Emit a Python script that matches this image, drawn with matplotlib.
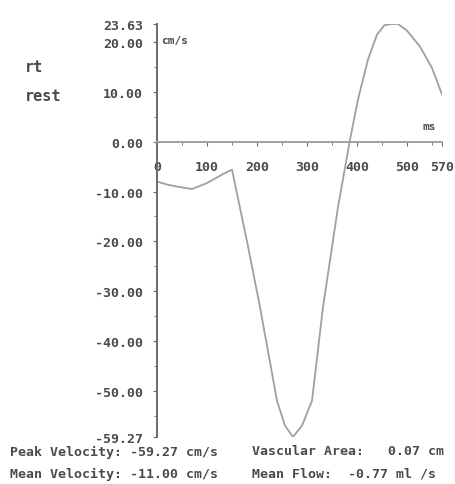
import numpy as np
import matplotlib
matplotlib.use("Agg")
from matplotlib import pyplot as plt
from matplotlib.ticker import MultipleLocator

# velocity trace (ms, cm/s)
time_ms = [0, 20, 40, 70, 100, 130, 150, 156, 180, 206, 240, 256, 272,
           290, 310, 332, 362, 386, 402, 422, 440, 455, 470, 482, 500, 526, 550, 570]
velocity = [-8.0, -8.6, -9.0, -9.5, -8.3, -6.6, -5.6, -8.5, -20.0, -33.2, -52.0, -57.0, -59.27,
            -57.0, -52.0, -33.2, -13.1, 0.4, 8.5, 16.5, 21.5, 23.4, 23.63, 23.63, 22.3, 19.1, 14.8, 9.5]

y_ticks = [23.63, 20.0, 10.0, 0.0, -10.0, -20.0, -30.0, -40.0, -50.0, -59.27]
x_ticks = [0, 100, 200, 300, 400, 500, 570]

side_labels = ["rt", "rest"]
stats_left = ["Peak Velocity: -59.27 cm/s", "Mean Velocity: -11.00 cm/s"]
stats_right = ["Vascular Area:   0.07 cm", "Mean Flow:  -0.77 ml /s"]

plt.rcParams["font.family"] = "DejaVu Sans Mono"
plt.rcParams["font.weight"] = "bold"
txt_col = "#4a4a4a"
ax_col = "#6a6a6a"

fig = plt.figure(figsize=(4.55, 4.85), dpi=100)
ax = fig.add_axes([157 / 455, 1 - 438 / 485, 285 / 455, 413 / 485])

ax.plot(time_ms, velocity, color="#a0a0a0", lw=1.3)

ax.set_xlim(0, 570)
ax.set_ylim(-59.27, 23.63)

for s in ["top", "right"]:
    ax.spines[s].set_visible(False)
ax.spines["bottom"].set_position(("data", 0))
ax.spines["left"].set_color(ax_col)
ax.spines["bottom"].set_color("#a0a0a0")
ax.spines["left"].set_linewidth(1.4)
ax.spines["bottom"].set_linewidth(1.4)

ax.set_yticks(y_ticks)
ax.set_yticklabels(["%.2f" % v for v in y_ticks])
ax.yaxis.set_minor_locator(MultipleLocator(5))
ax.set_xticks(x_ticks)
ax.set_xticklabels([str(v) for v in x_ticks])
ax.xaxis.set_minor_locator(MultipleLocator(50))
ax.tick_params(axis="y", which="major", length=3, pad=7, labelsize=9.5, colors=ax_col, labelcolor=txt_col)
ax.tick_params(axis="y", which="minor", length=2, colors=ax_col)
ax.tick_params(axis="x", which="major", length=3, pad=10, labelsize=9.5, colors=ax_col, labelcolor=txt_col)
ax.tick_params(axis="x", which="minor", length=2, colors=ax_col)

# units
ax.text(8, 20.5, "cm/s", fontsize=8, color=txt_col, va="center")
ax.text(545, 2.5, "ms", fontsize=8, color=txt_col, ha="center")

fig.text(25 / 455, 1 - 68 / 485, side_labels[0], fontsize=11, color=txt_col, va="center")
fig.text(25 / 455, 1 - 97 / 485, side_labels[1], fontsize=11, color=txt_col, va="center")

for i, (l, r) in enumerate(zip(stats_left, stats_right)):
    yy = 1 - (452 + 22 * i) / 485
    fig.text(10 / 455, yy, l, fontsize=9.5, color=txt_col, va="center")
    fig.text(252 / 455, yy, r, fontsize=9.5, color=txt_col, va="center")

fig.savefig("out.png", dpi=100)
